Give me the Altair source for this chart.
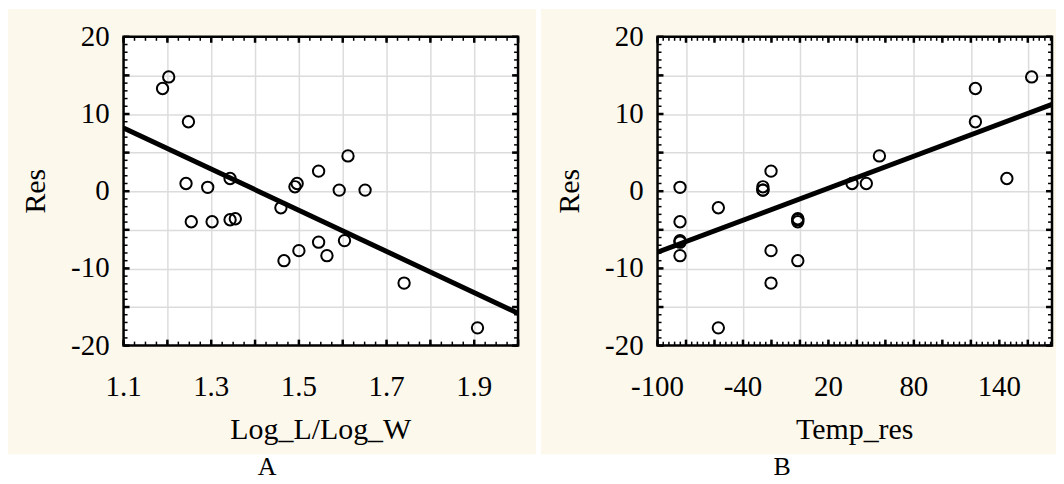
import altair as alt
import pandas as pd

# ---- data ----
res = [14.8, 13.3, 9.0, 1.0, 1.0, 0.5, 0.57, 1.65, 2.6, 4.57, 0.14, 0.14,
       -6.6, -6.4, -8.35, -11.9, -17.7, -3.95, -3.95, -3.7, -3.57, -2.14, -9.0, -7.7]
log_ratio = [1.203, 1.189, 1.248, 1.2425, 1.496, 1.292, 1.491, 1.343, 1.545, 1.612, 1.592, 1.651,
             1.545, 1.604, 1.564, 1.740, 1.9075, 1.2545, 1.302, 1.343, 1.355, 1.459, 1.466, 1.500]
temp_res = [162.7, 123.2, 123.2, 36.6, 46.6, -84.2, -26.0, 145.3, -20.3, 55.8, -26.0, -26.0,
            -84.2, -84.2, -84.2, -20.3, -57.3, -84.2, -1.5, -1.5, -1.5, -57.3, -1.5, -20.3]

fit_a_x = [1.1, 2.0]
fit_a_y = [8.2, -15.8]
fit_b_x = [-100, 177]
fit_b_y = [-7.9, 11.25]

x_labels_a = [1.1, 1.3, 1.5, 1.7, 1.9]
x_labels_b = [-100, -40, 20, 80, 140]
y_labels = [-20, -10, 0, 10, 20]

x_grid_a = [1.2, 1.3, 1.4, 1.5, 1.6, 1.7, 1.8, 1.9]
x_grid_b = [-80, -60, -40, -20, 0, 20, 40, 60, 80, 100, 120, 140, 160]
y_grid = [-15, -10, -5, 0, 5, 10, 15]

x_major_a = [round(1.1 + 0.1 * k, 3) for k in range(10)]
x_minor_a = [round(1.1 + 0.025 * k, 4) for k in range(37)]
x_major_b = list(range(-100, 177, 20))
x_minor_b = list(range(-100, 177, 4))
y_major = list(range(-20, 21, 5))
y_minor = list(range(-20, 21, 1))

W, H = 396, 310
FONT = "Liberation Serif"
BEIGE = "#fdf8ec"
GRID = "#dcdcdc"
YDOM = [-20, 20]


def panel(xs, xdomain, xlabels, xtitle, xgrid, xmajor, xminor, fx, fy, letter, pad_l, pad_r, letter_x):
    xsc = alt.Scale(domain=xdomain, nice=False, zero=False)
    ysc = alt.Scale(domain=YDOM, nice=False, zero=False)
    one = pd.DataFrame({"k": [0]})
    x0, x1 = xdomain
    y0, y1 = YDOM
    ux = (x1 - x0) / W          # data units per pixel, x
    uy = (y1 - y0) / H          # data units per pixel, y

    def X(f):
        return alt.X(f, scale=xsc)

    def Y(f):
        return alt.Y(f, scale=ysc)

    # beige panel background as four bands around the (white) plot area
    def band(a, b, c, d):
        return alt.Chart(one).mark_rect(color=BEIGE).encode(
            x=alt.value(a), x2=alt.value(b), y=alt.value(c), y2=alt.value(d))

    bands = [
        band(-pad_l, 0, -28, H + 109),
        band(W, W + pad_r, -28, H + 109),
        band(-1, W + 1, -28, 0),
        band(-1, W + 1, H, H + 109),
    ]

    def hseg(vals, b0, b1, sw, color):
        df = pd.DataFrame({"a": vals, "b0": [b0] * len(vals), "b1": [b1] * len(vals)})
        return alt.Chart(df).mark_rule(color=color, strokeWidth=sw).encode(
            y=Y("a:Q"), x=X("b0:Q"), x2="b1:Q")

    def vseg(vals, b0, b1, sw, color):
        df = pd.DataFrame({"a": vals, "b0": [b0] * len(vals), "b1": [b1] * len(vals)})
        return alt.Chart(df).mark_rule(color=color, strokeWidth=sw).encode(
            x=X("a:Q"), y=Y("b0:Q"), y2="b1:Q")

    fit = alt.Chart(pd.DataFrame({"x": fx, "y": fy})).mark_line(
        color="black", strokeWidth=5, clip=True).encode(x=X("x:Q"), y=Y("y:Q"))

    # grid lines through the axes (labels drawn separately as text marks)
    gxaxis = alt.Axis(values=xgrid, grid=True, gridColor=GRID, gridWidth=1.5, gridOpacity=1,
                      labels=False, ticks=False, domain=False, title="")
    gyaxis = alt.Axis(values=y_grid, grid=True, gridColor=GRID, gridWidth=1.5, gridOpacity=1,
                      labels=False, ticks=False, domain=False, title="")

    pts = alt.Chart(pd.DataFrame({"x": xs, "res": res})).mark_point(
        shape="circle", filled=False, color="black", size=130, strokeWidth=2, opacity=1).encode(
        x=alt.X("x:Q", scale=xsc, axis=gxaxis), y=alt.Y("res:Q", scale=ysc, axis=gyaxis))

    ticks = [
        hseg(y_minor, x0, x0 + 4 * ux, 1.5, "black"), hseg(y_minor, x1 - 4 * ux, x1, 1.5, "black"),
        hseg(y_major, x0, x0 + 6 * ux, 2.5, "black"), hseg(y_major, x1 - 6 * ux, x1, 2.5, "black"),
        vseg(xminor, y0, y0 + 4 * uy, 1.5, "black"), vseg(xminor, y1 - 4 * uy, y1, 1.5, "black"),
        vseg(xmajor, y0, y0 + 6 * uy, 2.5, "black"), vseg(xmajor, y1 - 6 * uy, y1, 2.5, "black"),
    ]

    frame = alt.Chart(one).mark_rect(fill=None, stroke="black", strokeWidth=2.5).encode(
        x=alt.value(0), x2=alt.value(W), y=alt.value(0), y2=alt.value(H))

    ylab = alt.Chart(pd.DataFrame({"v": y_labels, "t": [str(v) for v in y_labels]})).mark_text(
        font=FONT, fontSize=29, color="black", align="right", baseline="middle").encode(
        y=Y("v:Q"), x=alt.value(-14), text="t:N")
    xlab = alt.Chart(pd.DataFrame({"v": xlabels, "t": [str(v) for v in xlabels]})).mark_text(
        font=FONT, fontSize=29, color="black", align="center", baseline="top").encode(
        x=X("v:Q"), y=alt.value(H + 28), text="t:N")

    xtit = alt.Chart(pd.DataFrame({"t": [xtitle]})).mark_text(
        font=FONT, fontSize=30, color="black", align="center", baseline="alphabetic").encode(
        text="t:N", x=alt.value(W / 2), y=alt.value(H + 94))
    ytit = alt.Chart(pd.DataFrame({"t": ["Res"]})).mark_text(
        font=FONT, fontSize=30, color="black", align="center", baseline="middle", angle=270).encode(
        text="t:N", x=alt.value(-88), y=alt.value(H / 2))

    lab = alt.Chart(pd.DataFrame({"t": [letter]})).mark_text(
        font=FONT, fontSize=26, color="black", baseline="alphabetic", align="center").encode(
        text="t:N", x=alt.value(letter_x), y=alt.value(H + 130))

    return alt.layer(*bands, fit, pts, *ticks, frame,
                     ylab, xlab, xtit, ytit, lab).properties(width=W, height=H)


pa = panel(log_ratio, [1.1, 2.0], x_labels_a, "Log_L/Log_W", x_grid_a, x_major_a, x_minor_a,
           fit_a_x, fit_a_y, "A", 116, 18, 144)
pb = panel(temp_res, [-100, 177], x_labels_b, "Temp_res", x_grid_b, x_major_b, x_minor_b,
           fit_b_x, fit_b_y, "B", 117, 4, 125)

chart = alt.hconcat(pa, pb, spacing=5).properties(
    padding=0, background="white"
).configure_view(strokeWidth=0, fill="white")

chart.save("out.html", embed_options={"renderer": "svg", "actions": False})
